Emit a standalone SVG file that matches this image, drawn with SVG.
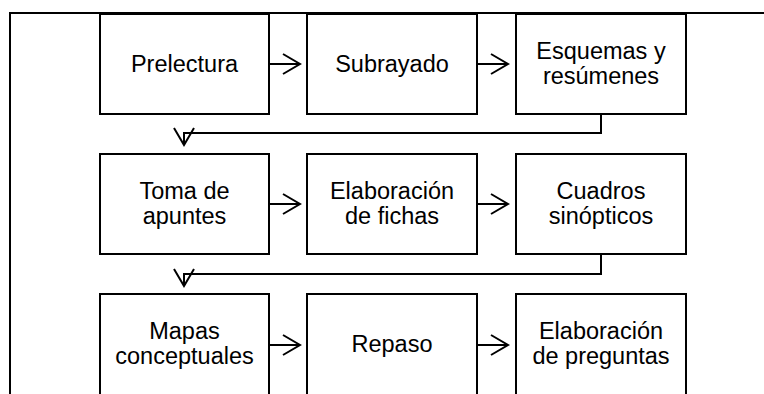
<svg xmlns="http://www.w3.org/2000/svg" width="764" height="394" viewBox="0 0 764 394">
<style>
.box{fill:#fff;stroke:#000;stroke-width:2}
.lbl{font-family:"Liberation Sans",Arial,sans-serif;font-size:23.5px;fill:#000;text-anchor:middle}
.edge{fill:none;stroke:#000;stroke-width:2}
</style>
<defs>
<marker id="arr" markerUnits="userSpaceOnUse" orient="auto" refX="0" refY="0" overflow="visible" markerWidth="20" markerHeight="20">
<path d="M-17,-10 L0,0 L-17,10" fill="none" stroke="#000" stroke-width="2"/>
</marker>
</defs>
<rect width="764" height="394" fill="#fff"/>
<g id="frame"><path class="edge" d="M764,13 H10 V394"/></g>
<g id="connectors">
<path class="edge" d="M269,64 H300" marker-end="url(#arr)"/>
<path class="edge" d="M477,64 H508" marker-end="url(#arr)"/>
<path class="edge" d="M601,114 V133 H184 V145" marker-end="url(#arr)"/>
<path class="edge" d="M269,204 H300" marker-end="url(#arr)"/>
<path class="edge" d="M477,204 H508" marker-end="url(#arr)"/>
<path class="edge" d="M601,254 V274 H184 V286" marker-end="url(#arr)"/>
<path class="edge" d="M269,345 H300" marker-end="url(#arr)"/>
<path class="edge" d="M477,345 H508" marker-end="url(#arr)"/>
</g>
<g id="n1"><rect class="box" x="100" y="14" width="169" height="100"/><text class="lbl" x="184.5" y="72">Prelectura</text></g>
<g id="n2"><rect class="box" x="307" y="14" width="170" height="100"/><text class="lbl" x="392" y="72">Subrayado</text></g>
<g id="n3"><rect class="box" x="516" y="14" width="170" height="100"/><text class="lbl" x="601" y="59">Esquemas y</text><text class="lbl" x="601" y="84">resúmenes</text></g>
<g id="n4"><rect class="box" x="100" y="154" width="169" height="100"/><text class="lbl" x="184.5" y="199">Toma de</text><text class="lbl" x="184.5" y="224">apuntes</text></g>
<g id="n5"><rect class="box" x="307" y="154" width="170" height="100"/><text class="lbl" x="392" y="199">Elaboración</text><text class="lbl" x="392" y="224">de fichas</text></g>
<g id="n6"><rect class="box" x="516" y="154" width="170" height="100"/><text class="lbl" x="601" y="199">Cuadros</text><text class="lbl" x="601" y="224">sinópticos</text></g>
<g id="n7"><rect class="box" x="100" y="294" width="169" height="110"/><text class="lbl" x="184.5" y="339">Mapas</text><text class="lbl" x="184.5" y="364">conceptuales</text></g>
<g id="n8"><rect class="box" x="307" y="294" width="170" height="110"/><text class="lbl" x="392" y="352">Repaso</text></g>
<g id="n9"><rect class="box" x="516" y="294" width="170" height="110"/><text class="lbl" x="601" y="339">Elaboración</text><text class="lbl" x="601" y="364">de preguntas</text></g>
</svg>
